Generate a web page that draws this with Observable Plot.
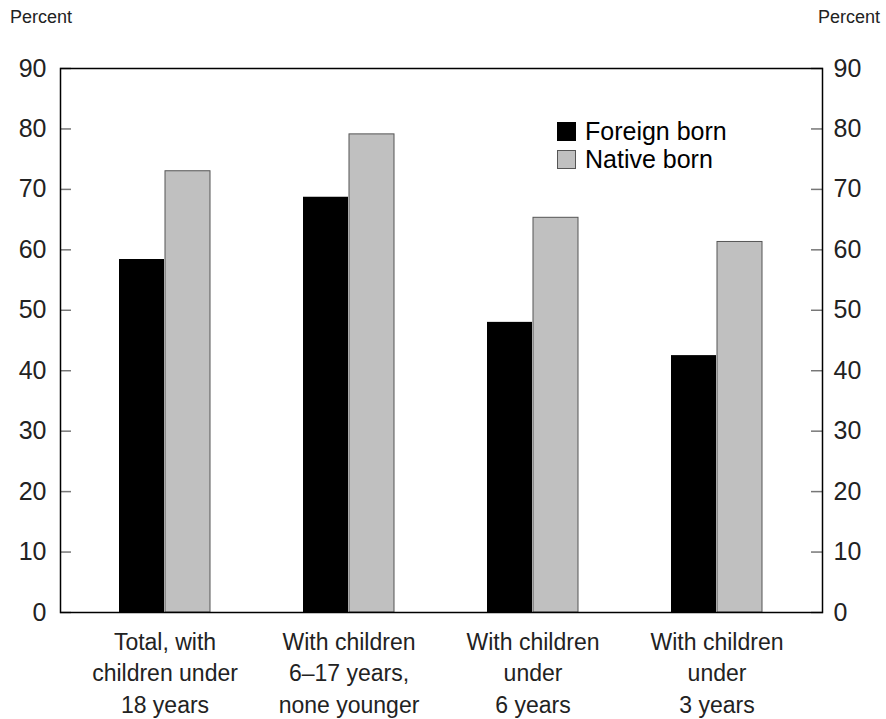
<!DOCTYPE html>
<html>
<head>
<meta charset="utf-8">
<script src="https://cdn.jsdelivr.net/npm/d3@7"></script>
<script src="https://cdn.jsdelivr.net/npm/@observablehq/plot@0.6"></script>
<style>
  body { margin: 0; background: #fff; font-family: "Liberation Sans", Arial, sans-serif; }
  #wrap { position: relative; width: 886px; height: 719px; }
  .unit { position: absolute; top: 7px; font-size: 18px; color: #222; }
  .legend { position: absolute; left: 557px; top: 117px; font-size: 25px; color: #000; line-height: 28px; }
  .legend div { display: flex; align-items: center; }
  .sw { width: 19px; height: 19px; margin-right: 9px; box-sizing: border-box; }
</style>
</head>
<body>
<div id="wrap">
  <div class="unit" style="left:10px">Percent</div>
  <div class="unit" style="right:6px">Percent</div>
  <div id="chart"></div>
  <div class="legend">
    <div><span class="sw" style="background:#000"></span>Foreign born</div>
    <div><span class="sw" style="background:#c0c0c0;border:1px solid #555"></span>Native born</div>
  </div>
</div>
<script>
const categories = [
  "Total, with\nchildren under\n18 years",
  "With children\n6–17 years,\nnone younger",
  "With children\nunder\n6 years",
  "With children\nunder\n3 years"
];
const foreignBorn = [58.4, 68.7, 48.0, 42.5];
const nativeBorn = [73.0, 79.1, 65.3, 61.3];
const yTicks = [0, 10, 20, 30, 40, 50, 60, 70, 80, 90];

const data = categories.map((c, i) => ({category: c, foreign: foreignBorn[i], native: nativeBorn[i]}));

const chart = Plot.plot({
  width: 886,
  height: 719,
  marginLeft: 60,
  marginRight: 64,
  marginTop: 68,
  marginBottom: 107,
  style: {fontFamily: "Liberation Sans, Arial, sans-serif", background: "#fff", color: "#222", overflow: "visible"},
  x: {domain: categories, paddingInner: 0.503, paddingOuter: 0.311, label: null},
  y: {domain: [0, 90], label: null},
  marks: [
    Plot.barY(data, {x: "category", y: "foreign", fill: "#000", insetRight: 46}),
    Plot.barY(data, {x: "category", y: "native", fill: "#c0c0c0", stroke: "#555", strokeWidth: 1, insetLeft: 46}),
    Plot.axisY({ticks: yTicks, anchor: "left", tickSize: -11, stroke: "#777", strokeWidth: 1.5, tickFormat: () => "", label: null}),
    Plot.axisY({ticks: yTicks, anchor: "right", tickSize: -12, stroke: "#777", strokeWidth: 1.5, tickFormat: () => "", label: null}),
    Plot.axisY({ticks: yTicks, anchor: "left", tickSize: 0, tickPadding: 14, fontSize: 25, label: null}),
    Plot.axisY({ticks: yTicks, anchor: "right", tickSize: 0, tickPadding: 11, fontSize: 25, label: null}),
    Plot.axisX({tickSize: 0, tickPadding: 15, fontSize: 23, lineHeight: 1.37, label: null}),
    Plot.frame({stroke: "#000", strokeWidth: 1.5})
  ]
});
document.getElementById("chart").appendChild(chart);
</script>
</body>
</html>
